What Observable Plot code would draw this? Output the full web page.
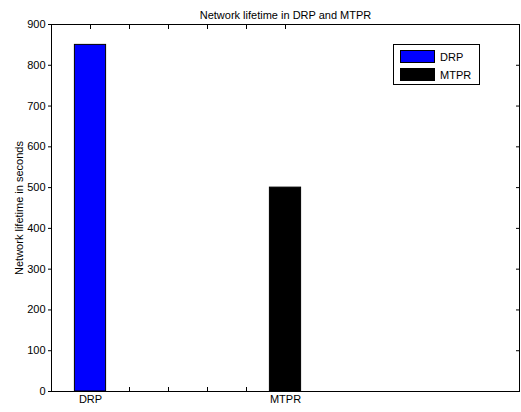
<!DOCTYPE html>
<html>
<head>
<meta charset="utf-8">
<script src="https://cdn.jsdelivr.net/npm/d3@7"></script>
<script src="https://cdn.jsdelivr.net/npm/@observablehq/plot@0.6"></script>
<style>
  html, body { margin: 0; padding: 0; background: #fff; }
  #wrap { position: relative; width: 521px; height: 412px; font-family: "Liberation Sans", Arial, sans-serif; }
  #legend { position: absolute; left: 393px; top: 44px; width: 87px; height: 41px; border: 1px solid #000; background: #fff; box-sizing: border-box; font-size: 11px; }
  .row { position: absolute; left: 6px; display: flex; align-items: center; }
  .sw { width: 35px; height: 13px; border: 1px solid #000; box-sizing: border-box; margin-right: 5px; }
</style>
</head>
<body>
<div id="wrap"></div>
<script>
const categories = ["DRP", "MTPR"];
const positions = [1, 6];
const values = [850, 500];
const colors = ["#0000ff", "#000000"];
const yTicks = [0, 100, 200, 300, 400, 500, 600, 700, 800, 900];
const xTicks = [1, 2, 3, 4, 5, 6];
const title = "Network lifetime in DRP and MTPR";
const yLabel = "Network lifetime in seconds";

const data = categories.map((c, i) => ({cat: c, pos: positions[i], value: values[i], color: colors[i]}));
const xLabel = new Map(positions.map((p, i) => [p, categories[i]]));

const chart = Plot.plot({
  width: 521,
  height: 412,
  marginLeft: 51,
  marginRight: 2,
  marginTop: 24,
  marginBottom: 21,
  style: {fontFamily: "Liberation Sans, Arial, sans-serif", fontSize: "11px", color: "#000", background: "#fff"},
  x: {type: "linear", domain: [0, 12]},
  y: {domain: [0, 900]},
  marks: [
    Plot.axisX({anchor: "bottom", ticks: xTicks, tickSize: -4, tickPadding: 8, tickFormat: d => xLabel.get(d) ?? "", label: null, stroke: "#000"}),
    Plot.axisX({anchor: "top", ticks: xTicks, tickSize: -4, tickFormat: () => "", label: null}),
    Plot.axisY({anchor: "left", ticks: yTicks, tickSize: 3, tickPadding: 3, label: yLabel, labelAnchor: "center", labelArrow: "none", labelOffset: 36}),
    Plot.axisY({anchor: "right", ticks: yTicks, tickSize: -4, tickFormat: () => "", label: null}),
    Plot.rectY(data, {x1: d => d.pos - 0.4, x2: d => d.pos + 0.4, y: "value", fill: "color", stroke: "#000", strokeWidth: 1}),
    Plot.frame({stroke: "#000", strokeWidth: 1}),
    Plot.text([title], {frameAnchor: "top", dy: -13, text: d => d, fontSize: 11})
  ]
});
document.getElementById("wrap").appendChild(chart);

const legend = document.createElement("div");
legend.id = "legend";
data.forEach((d, i) => {
  const row = document.createElement("div");
  row.className = "row";
  row.style.top = (5 + i * 18) + "px";
  const sw = document.createElement("div");
  sw.className = "sw";
  sw.style.background = d.color;
  const lab = document.createElement("span");
  lab.textContent = d.cat;
  row.appendChild(sw);
  row.appendChild(lab);
  legend.appendChild(row);
});
document.getElementById("wrap").appendChild(legend);
</script>
</body>
</html>
